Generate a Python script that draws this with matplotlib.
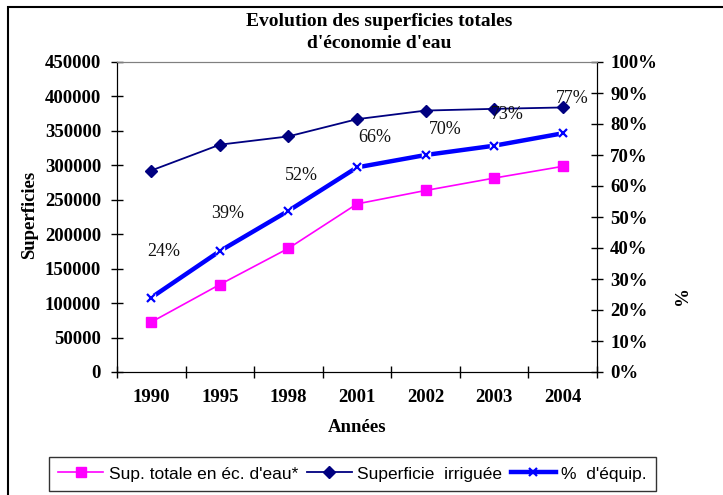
import matplotlib
matplotlib.use("Agg")
import matplotlib.pyplot as plt
from matplotlib.ticker import FixedLocator, PercentFormatter, NullFormatter
from matplotlib.patches import Rectangle
from matplotlib.lines import Line2D

years = ["1990", "1995", "1998", "2001", "2002", "2003", "2004"]
sup_totale = [72500, 127000, 179500, 244000, 263500, 281500, 298500]
sup_irriguee = [292500, 330000, 342000, 367000, 379500, 382000, 384000]
pct_equip = [0.24, 0.39, 0.52, 0.66, 0.70, 0.73, 0.77]
pct_labels = ["24%", "39%", "52%", "66%", "70%", "73%", "77%"]
# label offsets (pixels) relative to each point
label_dx = [12, 8, 13, 18, 20, 13, 10]
label_dy = [46, 38, 35, 30, 26, 31, 35]

W, H = 723, 495
fig = plt.figure(figsize=(W / 100, H / 100), dpi=100)
ax = fig.add_axes([117 / W, 1 - 372 / H, (597 - 117) / W, (372 - 62) / H])
ax2 = ax.twinx()

serif = "Liberation Serif"
sans = "Liberation Sans"

x = list(range(len(years)))
l1, = ax.plot(x, sup_totale, color="#FF00FF", lw=1.2, marker="s", ms=7,
              mfc="#FF00FF", mec="#FF00FF", zorder=3)
l2, = ax.plot(x, sup_irriguee, color="#000080", lw=1.3, marker="D", ms=6.5,
              mfc="#000080", mec="#000080", zorder=3)
ax2.plot(x, pct_equip, color="#0000FF", lw=3.2, zorder=2)
ax2.plot(x, pct_equip, ls="none", marker="s", ms=6, mfc="white", mec="white", zorder=3)
ax2.plot(x, pct_equip, ls="none", marker="x", ms=5.5, mew=1.6, color="#0000FF", zorder=4)

for xi, yi, lab, dx, dy in zip(x, pct_equip, pct_labels, label_dx, label_dy):
    ax2.annotate(lab, (xi, yi), xytext=(dx, dy), textcoords="offset pixels",
                 ha="center", va="center", fontsize=13, family=serif, color="#111111")

ax.set_xlim(-0.5, len(years) - 0.5)
ax.set_ylim(0, 450000)
ax2.set_ylim(0, 1)

ax.xaxis.set_major_locator(FixedLocator([i - 0.5 for i in range(len(years) + 1)]))
ax.xaxis.set_major_formatter(NullFormatter())
ax.xaxis.set_minor_locator(FixedLocator(x))
ax.set_xticklabels(years, minor=True)
ax.tick_params(axis="x", which="major", direction="inout", length=9, width=1)
ax.tick_params(axis="x", which="minor", length=0, pad=12)

ax.set_yticks(range(0, 450001, 50000))
ax.tick_params(axis="y", direction="inout", length=9, width=1, pad=7)
ax2.set_yticks([i / 10 for i in range(11)])
ax2.yaxis.set_major_formatter(PercentFormatter(1.0, decimals=0))
ax2.tick_params(axis="y", direction="inout", length=9, width=1, pad=5)

for lab in ax.get_xticklabels(minor=True) + ax.get_yticklabels() + ax2.get_yticklabels():
    lab.set_fontfamily(serif)
    lab.set_fontweight("bold")
    lab.set_fontsize(13.5)

for a in (ax, ax2):
    a.spines["top"].set_color("#808080")
    a.spines["left"].set_color("black")
    a.spines["right"].set_color("black")
    a.spines["bottom"].set_color("black")
    a.patch.set_visible(False)

fig.text(379 / W, 1 - 22 / H, "Evolution des superficies totales", ha="center", va="center",
         fontsize=14, family=serif, fontweight="bold")
fig.text(379 / W, 1 - 43 / H, "d'économie d'eau", ha="center", va="center",
         fontsize=14, family=serif, fontweight="bold")
fig.text(357 / W, 1 - 427 / H, "Années", ha="center", va="center",
         fontsize=13.5, family=serif, fontweight="bold")
fig.text(30 / W, 1 - 215 / H, "Superficies", ha="center", va="center", rotation=90,
         fontsize=13.5, family=serif, fontweight="bold")
fig.text(677 / W, 1 - 298 / H, "%", ha="center", va="center", rotation=-90,
         fontsize=13.5, family=serif, fontweight="bold")

h3 = Line2D([], [], color="#0000FF", lw=3.2, marker="x", ms=5.5, mew=1.6)
leg = fig.legend([l1, l2, h3], ["Sup. totale en éc. d'eau*", "Superficie  irriguée", "%  d'équip."],
                 loc="center", bbox_to_anchor=(352.5 / W, 1 - 474 / H), ncol=3,
                 prop={"family": sans, "size": 12.5}, frameon=True, fancybox=False,
                 edgecolor="black", handlelength=2.6, handletextpad=0.3, columnspacing=0.5,
                 borderpad=0.55, borderaxespad=0)
leg.get_frame().set_linewidth(1.0)

fig.patches.append(Rectangle((8 / W, -0.1), 1.0, (H - 7) / H + 0.1, transform=fig.transFigure,
                             fill=False, edgecolor="black", lw=1.5))

fig.savefig("out.png", dpi=100)
